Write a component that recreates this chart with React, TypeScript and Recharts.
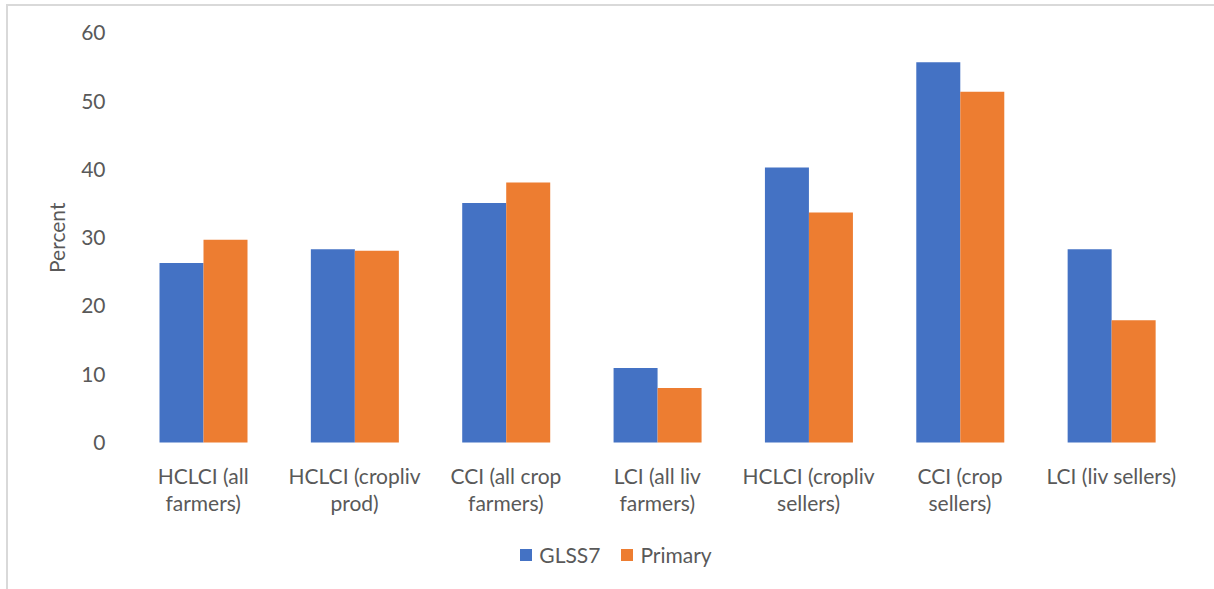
import { BarChart, Bar, XAxis, YAxis, Label } from 'recharts';

const CATEGORIES = [
  'HCLCI (all\nfarmers)',
  'HCLCI (cropliv\nprod)',
  'CCI (all crop\nfarmers)',
  'LCI (all liv\nfarmers)',
  'HCLCI (cropliv\nsellers)',
  'CCI (crop\nsellers)',
  'LCI (liv sellers)',
];
const GLSS7 = [26.3, 28.3, 35.1, 10.9, 40.3, 55.7, 28.3];
const PRIMARY = [29.7, 28.1, 38.1, 8.0, 33.7, 51.4, 17.9];
const Y_TICKS = [0, 10, 20, 30, 40, 50, 60];

const SERIES = [
  { key: 'glss7', name: 'GLSS7', color: '#4472C4' },
  { key: 'primary', name: 'Primary', color: '#ED7D31' },
];

const FONT = 'Lato, "Open Sans", sans-serif';
const FONT_SIZE = 21;
const TEXT_COLOR = '#595959';

const data = CATEGORIES.map((cat, i) => ({
  cat,
  glss7: GLSS7[i],
  primary: PRIMARY[i],
}));

const CategoryTick = ({ x, y, payload }: { x: number; y: number; payload: { value: string } }) => {
  const lines = String(payload.value).split('\n');
  return (
    <g transform={`translate(${x},${y})`}>
      {lines.map((line, i) => (
        <text
          key={i}
          x={0}
          y={39 + i * 27.5}
          textAnchor="middle"
          fontSize={FONT_SIZE}
          fontFamily={FONT}
          fill={TEXT_COLOR}
        >
          {line}
        </text>
      ))}
    </g>
  );
};

// legend drawn as plain html under the plot
const ChartLegend = () => (
  <div
    style={{
      position: 'absolute',
      left: 0,
      top: 542,
      width: 1214,
      display: 'flex',
      justifyContent: 'center',
      alignItems: 'center',
      fontFamily: FONT,
      fontSize: FONT_SIZE,
      color: TEXT_COLOR,
      paddingLeft: 18,
      boxSizing: 'border-box',
    }}
  >
    {SERIES.map((s, i) => (
      <div key={s.key} style={{ display: 'flex', alignItems: 'center', marginLeft: i ? 21 : 0 }}>
        <span style={{ width: 12, height: 12, background: s.color, display: 'inline-block', marginRight: 7 }} />
        <span>{s.name}</span>
      </div>
    ))}
  </div>
);

export default function App() {
  return (
    <div style={{ position: 'absolute', left: 0, top: 0, width: 1214, height: 589, background: '#fff' }}>
      <div
        style={{
          position: 'absolute',
          left: 6,
          top: 4,
          right: 0,
          bottom: 0,
          borderLeft: '2px solid #d9d9d9',
          borderTop: '2px solid #d9d9d9',
        }}
      />
      <div style={{ position: 'absolute', left: 0, top: 0 }}>
        <BarChart
          width={1214}
          height={589}
          data={data}
          margin={{ top: 33, right: 27, bottom: 0, left: 0 }}
          barCategoryGap={32}
          barGap={0}
        >
          <XAxis
            dataKey="cat"
            axisLine={false}
            tickLine={false}
            tickSize={0}
            tick={CategoryTick}
            interval={0}
            height={146.5}
          />
          <YAxis
            domain={[0, 60]}
            ticks={Y_TICKS}
            axisLine={false}
            tickLine={false}
            tickSize={0}
            tickMargin={22}
            width={127.5}
            tick={{ fontSize: FONT_SIZE, fontFamily: FONT, fill: TEXT_COLOR }}
          >
            <Label
              value="Percent"
              angle={-90}
              position="insideLeft"
              offset={0}
              dx={58}
              style={{ fontSize: FONT_SIZE, fontFamily: FONT, fill: TEXT_COLOR, textAnchor: 'middle' }}
            />
          </YAxis>
          {SERIES.map((s) => (
            <Bar key={s.key} dataKey={s.key} name={s.name} fill={s.color} isAnimationActive={false} />
          ))}
        </BarChart>
      </div>
      <ChartLegend />
    </div>
  );
}
